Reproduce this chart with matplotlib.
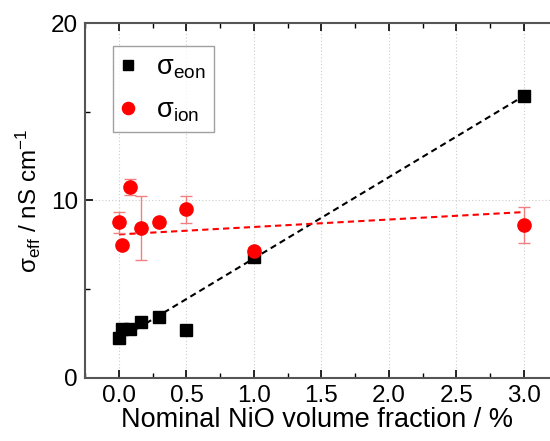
import matplotlib
matplotlib.use("Agg")
import matplotlib.pyplot as plt
from matplotlib.ticker import MultipleLocator, FormatStrFormatter
import numpy as np

plt.rcParams['font.family'] = ['Liberation Sans', 'DejaVu Sans']
plt.rcParams['mathtext.fontset'] = 'custom'
plt.rcParams['mathtext.rm'] = 'Liberation Sans'
plt.rcParams['mathtext.it'] = 'Liberation Sans:italic'
plt.rcParams['mathtext.bf'] = 'Liberation Sans:bold'

# Nominal NiO volume fraction (%)
nio_eon = [0.0, 0.02, 0.08, 0.16, 0.3, 0.5, 1.0, 3.0]
sigma_eon = [2.22, 2.73, 2.73, 3.16, 3.44, 2.69, 6.8, 15.88]

nio_ion = [0.0, 0.02, 0.08, 0.16, 0.3, 0.5, 1.0, 3.0]
sigma_ion = [8.76, 7.48, 10.73, 8.42, 8.8, 9.49, 7.12, 8.6]
sigma_ion_err = [0.6, 0.0, 0.45, 1.8, 0.0, 0.75, 0.25, 1.0]

# Linear fits (intercept, slope)
fit_eon = [2.15, 4.58]
fit_ion = [8.08, 0.42]
fit_range = [0.0, 3.0]

fig = plt.figure(figsize=(5.5, 4.41), dpi=100)
ax = fig.add_axes([0.1545, 0.1435, 0.8455, 0.8043])

xf = np.array(fit_range)
ax.plot(xf, fit_eon[0] + fit_eon[1] * xf, ls=(0, (3, 2)), color='black', lw=1.5, zorder=2)
ax.plot(xf, fit_ion[0] + fit_ion[1] * xf, ls=(0, (3, 2)), color='red', lw=1.5, zorder=2)

ax.errorbar(nio_ion, sigma_ion, yerr=sigma_ion_err, fmt='none', ecolor='#f08080',
            elinewidth=1.0, capsize=4, capthick=1.0, zorder=3)
ax.plot(nio_eon, sigma_eon, 's', color='black', ms=8.5, ls='none',
        label='σ$_{\\mathrm{eon}}$', zorder=4)
ax.plot(nio_ion, sigma_ion, 'o', color='red', ms=9.5, ls='none',
        label='σ$_{\\mathrm{ion}}$', zorder=5)

ax.set_xlim(-0.252, 3.193)
ax.set_ylim(0, 20)
ax.xaxis.set_major_locator(MultipleLocator(0.5))
ax.xaxis.set_minor_locator(MultipleLocator(0.25))
ax.yaxis.set_major_locator(MultipleLocator(10))
ax.yaxis.set_minor_locator(MultipleLocator(5))
ax.xaxis.set_major_formatter(FormatStrFormatter('%.1f'))

ax.grid(True, which='major', ls=(0, (1, 2)), color='#cccccc', lw=0.8)
ax.set_axisbelow(True)

spine_c = '#555555'
for s in ['left', 'bottom', 'top']:
    ax.spines[s].set_color(spine_c)
    ax.spines[s].set_linewidth(1.5)
ax.spines['right'].set_visible(False)

ax.tick_params(which='both', direction='in', top=True, right=False, color='black',
               labelsize=17.5, pad=5)
ax.tick_params(which='major', length=6, width=1.2)
ax.tick_params(which='minor', length=3.5, width=1.0)

ax.set_xlabel('Nominal NiO volume fraction / %', fontsize=19.5, labelpad=0)
ax.set_ylabel('σ$_{\\mathrm{eff}}$ / nS cm$^{-1}$', fontsize=17.5, labelpad=6)

leg = ax.legend(loc='upper left', bbox_to_anchor=(0.06, 0.935), borderaxespad=0,
                fontsize=19.5, frameon=True, fancybox=False, edgecolor='#888888',
                borderpad=0.3, handletextpad=0.8, labelspacing=0.62,
                handlelength=0.5, markerscale=0.92)
leg.get_frame().set_linewidth(1.0)

fig.savefig('out.png', dpi=100)
